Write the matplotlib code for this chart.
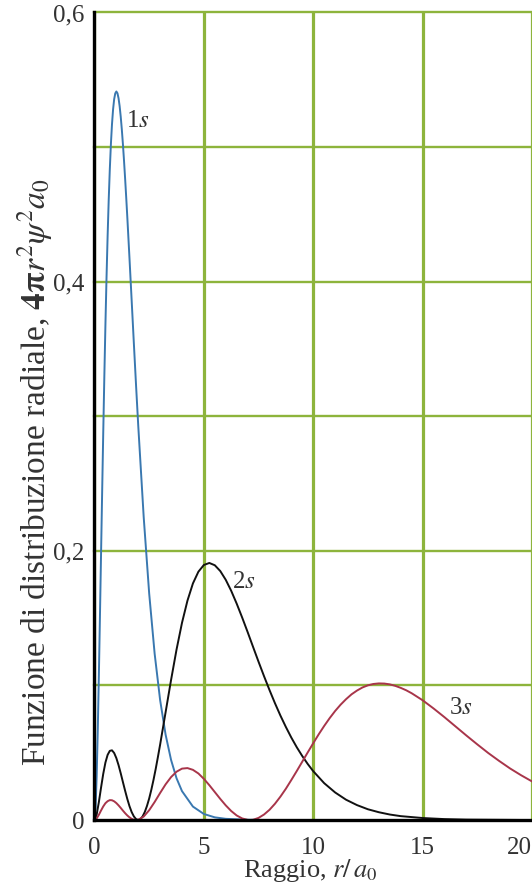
import matplotlib
matplotlib.use("Agg")
import matplotlib.pyplot as plt

plt.rcParams['font.family'] = ['Liberation Serif', 'DejaVu Serif']
plt.rcParams['mathtext.fontset'] = 'stix'

# radial distribution (r in units of a0)
r_1s = [0, 0.05, 0.1, 0.15, 0.2, 0.25, 0.3, 0.35, 0.4, 0.45,
        0.5, 0.55, 0.6, 0.65, 0.7, 0.75, 0.8, 0.85, 0.9, 0.95,
        1.0, 1.05, 1.1, 1.15, 1.2, 1.25, 1.3, 1.35, 1.4, 1.45,
        1.5, 1.6, 1.7, 1.8, 1.9, 2.0,
        2.25, 2.5, 2.75, 3.0, 3.25, 3.5, 3.75, 4.0,
        4.5, 5.0, 5.5, 6.0, 7.0, 8.0, 20.0]
p_1s = [0, 0.0090, 0.0327, 0.0667, 0.1073, 0.1516, 0.1976, 0.2433, 0.2876, 0.3293,
        0.3679, 0.4028, 0.4337, 0.4606, 0.4833, 0.5020, 0.5169, 0.5280, 0.5356, 0.5399,
        0.5413, 0.5400, 0.5363, 0.5304, 0.5225, 0.5130, 0.5021, 0.4899, 0.4767, 0.4627,
        0.4481, 0.4174, 0.3858, 0.3541, 0.3230, 0.2931,
        0.2250, 0.1684, 0.1236, 0.0892, 0.0635, 0.0447, 0.0311, 0.0215,
        0.0100, 0.0045, 0.0020, 0.0009, 0.0002, 0.0, 0.0]

r_2s = [0, 0.1, 0.2, 0.3, 0.4, 0.5, 0.6, 0.7, 0.8, 0.9,
        1.0, 1.1, 1.2, 1.3, 1.4, 1.5, 1.6, 1.7, 1.8, 1.9,
        2.0, 2.1, 2.2, 2.3, 2.4, 2.5, 2.6, 2.7, 2.8, 2.9, 3.0,
        3.25, 3.5, 3.75, 4.0, 4.25, 4.5, 4.75, 5.0, 5.25, 5.5, 5.75, 6.0, 6.25, 6.5,
        6.75, 7.0, 7.25, 7.5, 7.75, 8.0, 8.25, 8.5, 8.75, 9.0, 9.25, 9.5, 9.75, 10,
        10.5, 11, 11.5, 12, 12.5, 13, 13.5, 14, 15, 16, 17, 18, 20]
p_2s = [0, 0.0041, 0.0133, 0.0241, 0.0343, 0.0427, 0.0484, 0.0514, 0.0518, 0.0498,
        0.0460, 0.0408, 0.0347, 0.0282, 0.0218, 0.0157, 0.0103, 0.0059, 0.0027, 0.0007,
        0, 0.0007, 0.0027, 0.0060, 0.0105, 0.0160, 0.0226, 0.0300, 0.0381, 0.0469, 0.0560,
        0.0800, 0.1040, 0.1266, 0.1465, 0.1630, 0.1758, 0.1845, 0.1895, 0.1910, 0.1893,
        0.1850, 0.1785, 0.1703, 0.1608,
        0.1505, 0.1397, 0.1286, 0.1176, 0.1069, 0.0966, 0.0868, 0.0776, 0.0691, 0.0612,
        0.0540, 0.0475, 0.0416, 0.0363,
        0.0274, 0.0205, 0.0151, 0.0111, 0.0080, 0.0058, 0.0041, 0.0029, 0.0015, 0.0007,
        0.0003, 0.0002, 0.0]

r_3s = [0, 0.1, 0.2, 0.3, 0.4, 0.5, 0.6, 0.7, 0.8, 0.9,
        1.0, 1.1, 1.2, 1.3, 1.4, 1.5, 1.6, 1.7, 1.8, 1.9, 2.0,
        2.25, 2.5, 2.75, 3.0, 3.25, 3.5, 3.75, 4.0, 4.25, 4.5, 4.75, 5.0,
        5.25, 5.5, 5.75, 6.0, 6.25, 6.5, 6.75, 7.0, 7.1, 7.25, 7.5, 7.75, 8.0,
        8.25, 8.5, 8.75, 9.0, 9.25, 9.5, 9.75, 10, 10.25, 10.5, 10.75, 11,
        11.25, 11.5, 11.75, 12, 12.25, 12.5, 12.75, 13, 13.25, 13.5, 13.75, 14,
        14.25, 14.5, 15, 15.5, 16, 16.5, 17, 17.5, 18, 18.5, 19, 19.5, 20]
p_3s = [0, 0.0012, 0.0039, 0.0071, 0.0101, 0.0125, 0.0140, 0.0148, 0.0147, 0.0139,
        0.0126, 0.0109, 0.0090, 0.0070, 0.0051, 0.0034, 0.0020, 0.0009, 0.0002, 0, 0.0002,
        0.0026, 0.0073, 0.0134, 0.0201, 0.0265, 0.0319, 0.0359, 0.0382, 0.0386, 0.0373,
        0.0346, 0.0306,
        0.0259, 0.0208, 0.0157, 0.0109, 0.0067, 0.0034, 0.0012, 0.0001, 0, 0.0002,
        0.0016, 0.0041, 0.0076,
        0.0121, 0.0174, 0.0233, 0.0298, 0.0365, 0.0434, 0.0503, 0.0571, 0.0637, 0.0699,
        0.0757, 0.0810,
        0.0857, 0.0898, 0.0934, 0.0962, 0.0985, 0.1001, 0.1011, 0.1015, 0.1014, 0.1008,
        0.0997, 0.0982,
        0.0964, 0.0942, 0.0890, 0.0829, 0.0764, 0.0696, 0.0628, 0.0562, 0.0498, 0.0439,
        0.0383, 0.0333, 0.0287]

x_ticks = [0, 5, 10, 15, 20]
y_grid = [0.1, 0.2, 0.3, 0.4, 0.5, 0.6]
y_ticks = [0, 0.2, 0.4, 0.6]
y_tick_labels = ['0', '0,2', '0,4', '0,6']

green = '#8db43c'
txt = '#333333'

fig = plt.figure(figsize=(5.32, 8.85), dpi=100)
ax = fig.add_axes([0.1776, 0.0734, 0.8224, 0.9125])

for xv in x_ticks:
    ax.axvline(xv, color=green, lw=2.3, zorder=0)
for yv in y_grid:
    ax.axhline(yv, color=green, lw=1.7, zorder=0, clip_on=False)

ax.plot(r_1s, p_1s, color='#3a78b0', lw=1.4)
ax.plot(r_2s, p_2s, color='#111111', lw=1.4)
ax.plot(r_3s, p_3s, color='#a8354a', lw=1.4)

ax.text(1.45, 0.519, '1$s$', fontsize=18, color=txt, va='center')
ax.text(6.3, 0.177, '2$s$', fontsize=18, color=txt, va='center')
ax.text(16.2, 0.083, '3$s$', fontsize=18, color=txt, va='center')

ax.set_xlim(0, 20)
ax.set_ylim(0, 0.6)
ax.set_xticks(x_ticks)
ax.set_yticks(y_ticks)
ax.set_yticklabels(y_tick_labels)
ax.tick_params(length=0, labelsize=18, labelcolor=txt)
ax.tick_params(axis='x', pad=12)
ax.tick_params(axis='y', pad=7)
ax.get_xticklabels()[-1].set_horizontalalignment('right')

for s in ['top', 'right']:
    ax.spines[s].set_visible(False)
for s in ['left', 'bottom']:
    ax.spines[s].set_linewidth(2.4)
    ax.spines[s].set_color('black')
    ax.spines[s].set_zorder(5)

fig.text(310 / 532, 1 - 877 / 885, 'Raggio, $r/\\,a_0$', fontsize=19, color=txt,
         ha='center', va='baseline')
fig.text(35 / 532, 1 - 472 / 885,
         'Funzione di distribuzione radiale, $\\mathbf{4\\pi}r^2\\psi^2a_0$',
         fontsize=24, color=txt, rotation=90, ha='center', va='center')

fig.savefig('out.png', dpi=100)
